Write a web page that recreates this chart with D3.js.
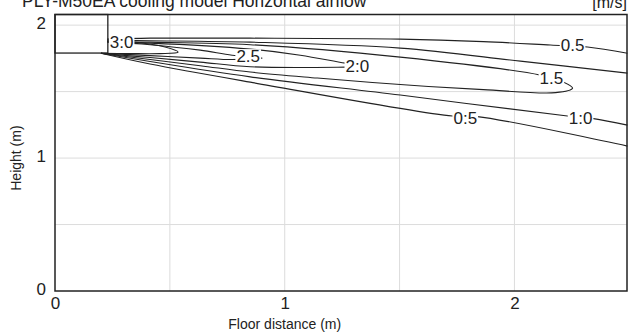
<!DOCTYPE html>
<html>
<head>
<meta charset="utf-8">
<script src="https://cdn.jsdelivr.net/npm/d3@7"></script>
<style>
  body { margin: 0; background: #fff; }
  text { font-family: "Liberation Sans", Arial, sans-serif; fill: #222; }
</style>
</head>
<body>
<div id="chart"></div>
<script>
// axis setup
const xDomain = [0, 2.49]
const yDomain = [0, 2.08]
const xTicks = [0, 1, 2]
const yTicks = [0, 1, 2]
const xGrid = [0.5, 1, 1.5, 2]
const yGrid = [0.5, 1, 1.5, 2]

// outlet box (x from 0 to 0.23, y from 1.79 to top)
const outletX = [0, 0.23]
const outletY = [1.79, 2.08]

// velocity contours, [floor distance, height]
const c30 = [[0.227,1.880],[0.370,1.868],[0.479,1.835],[0.536,1.797],[0.458,1.786],[0.327,1.786],[0.200,1.789]]
const c25 = [[0.227,1.876],[0.414,1.853],[0.632,1.812],[0.771,1.774],[0.902,1.752],[0.771,1.741],[0.632,1.752],[0.414,1.771],[0.200,1.788]]
const c20 = [[0.227,1.872],[0.414,1.865],[0.850,1.820],[1.068,1.774],[1.264,1.714],[1.364,1.688],[1.264,1.684],[0.850,1.687],[0.632,1.722],[0.414,1.756],[0.200,1.788]]
const c15 = [[0.227,1.876],[0.414,1.872],[0.850,1.853],[1.503,1.759],[2.113,1.624],[2.214,1.571],[2.253,1.526],[2.179,1.492],[1.865,1.515],[1.503,1.553],[1.142,1.602],[0.850,1.647],[0.632,1.695],[0.414,1.741],[0.200,1.788]]
const c10a = [[0.227,1.887],[0.414,1.883],[0.850,1.872],[1.503,1.827],[2.026,1.729],[2.492,1.639]]
const c10b = [[0.200,1.788],[0.414,1.726],[0.850,1.611],[1.503,1.474],[2.231,1.316],[2.344,1.297],[2.492,1.248]]
const c05a = [[0.227,1.895],[0.414,1.902],[0.850,1.902],[1.503,1.895],[1.865,1.876],[2.157,1.850],[2.318,1.835],[2.492,1.789]]
const c05b = [[0.200,1.788],[0.414,1.707],[0.850,1.571],[1.730,1.316],[1.839,1.312],[2.492,1.090]]
const contours = [c30, c25, c20, c15, c10a, c10b, c05a, c05b]

// contour labels
const labelText = ['3:0', '2.5', '2:0', '1.5', '0.5', '1:0', '0:5']
const labelX = [0.290, 0.841, 1.316, 2.161, 2.253, 2.288, 1.786]
const labelY = [1.872, 1.767, 1.692, 1.602, 1.850, 1.301, 1.301]

const width = 629
const height = 334
const margin = {top: 14.5, right: 2, bottom: 43, left: 55}

const svg = d3.select('#chart')
	.append('svg')
	.attr('width', width)
	.attr('height', height)

let xScale = d3.scaleLinear()
	.domain(xDomain)
	.range([margin.left, width - margin.right])

let yScale = d3.scaleLinear()
	.domain(yDomain)
	.range([height - margin.bottom, margin.top])

// grid
svg.selectAll('.gx')
	.data(xGrid)
	.enter()
	.append('line')
	.attr('x1', d => xScale(d))
	.attr('x2', d => xScale(d))
	.attr('y1', yScale(yDomain[0]))
	.attr('y2', yScale(yDomain[1]))
	.attr('stroke', '#dcdcdc')
	.attr('stroke-width', 1)

svg.selectAll('.gy')
	.data(yGrid)
	.enter()
	.append('line')
	.attr('x1', xScale(xDomain[0]))
	.attr('x2', xScale(xDomain[1]))
	.attr('y1', d => yScale(d))
	.attr('y2', d => yScale(d))
	.attr('stroke', '#dcdcdc')
	.attr('stroke-width', 1)

// axes, labels only
let xAxis = d3.axisBottom(xScale).tickValues(xTicks).tickSize(0).tickPadding(6).tickFormat(d3.format('d'))
let yAxis = d3.axisLeft(yScale).tickValues(yTicks).tickSize(0).tickPadding(9).tickFormat(d3.format('d'))

let xG = svg.append('g')
	.attr('transform', `translate(0,${height - margin.bottom})`)
	.call(xAxis)
xG.select('.domain').remove()
xG.selectAll('text').attr('font-size', 17).attr('font-family', '"Liberation Sans", Arial, sans-serif').attr('fill', '#222')

let yG = svg.append('g')
	.attr('transform', `translate(${margin.left},0)`)
	.call(yAxis)
yG.select('.domain').remove()
yG.selectAll('text').attr('font-size', 17).attr('font-family', '"Liberation Sans", Arial, sans-serif').attr('fill', '#222').attr('dy', '0.2em')

// contour lines
let lineGen = d3.line()
	.curve(d3.curveCatmullRom.alpha(0.5))
	.x(d => xScale(d[0]))
	.y(d => yScale(d[1]))

svg.selectAll('.contour')
	.data(contours)
	.enter()
	.append('path')
	.attr('class', 'contour')
	.attr('d', lineGen)
	.attr('fill', 'none')
	.attr('stroke', '#222')
	.attr('stroke-width', 1.1)

// labels with white backing
let lg = svg.selectAll('.clabel')
	.data(labelText)
	.enter()
	.append('g')
	.attr('class', 'clabel')
	.attr('transform', (d, i) => `translate(${xScale(labelX[i])},${yScale(labelY[i])})`)

lg.append('text')
	.attr('text-anchor', 'middle')
	.attr('dy', '0.36em')
	.attr('font-size', 17)
	.text(d => d)

lg.each(function(){
	let g = d3.select(this)
	let bb = g.select('text').node().getBBox()
	g.insert('rect', 'text')
		.attr('x', bb.x - 1)
		.attr('y', bb.y + 2)
		.attr('width', bb.width + 2)
		.attr('height', bb.height - 4)
		.attr('fill', 'white')
})

// outlet box
svg.append('rect')
	.attr('x', xScale(outletX[0]))
	.attr('y', yScale(outletY[1]))
	.attr('width', xScale(outletX[1]) - xScale(outletX[0]))
	.attr('height', yScale(outletY[0]) - yScale(outletY[1]))
	.attr('fill', 'none')
	.attr('stroke', '#222')
	.attr('stroke-width', 1.3)

// frame
svg.append('rect')
	.attr('x', margin.left)
	.attr('y', margin.top)
	.attr('width', width - margin.left - margin.right)
	.attr('height', height - margin.top - margin.bottom)
	.attr('fill', 'none')
	.attr('stroke', '#222')
	.attr('stroke-width', 1.5)

// titles
svg.append('text')
	.attr('x', 22)
	.attr('y', 7)
	.attr('font-size', 17.5)
	.text('PLY-M50EA cooling model  Horizontal airflow')

svg.append('text')
	.attr('x', 627)
	.attr('y', 8)
	.attr('text-anchor', 'end')
	.attr('font-size', 16)
	.text('[m/s]')

svg.append('text')
	.attr('x', xScale(1))
	.attr('y', 329)
	.attr('text-anchor', 'middle')
	.attr('font-size', 14)
	.text('Floor distance (m)')

svg.append('text')
	.attr('transform', `translate(21,${yScale(1)}) rotate(-90)`)
	.attr('text-anchor', 'middle')
	.attr('font-size', 14)
	.text('Height (m)')
</script>
</body>
</html>
